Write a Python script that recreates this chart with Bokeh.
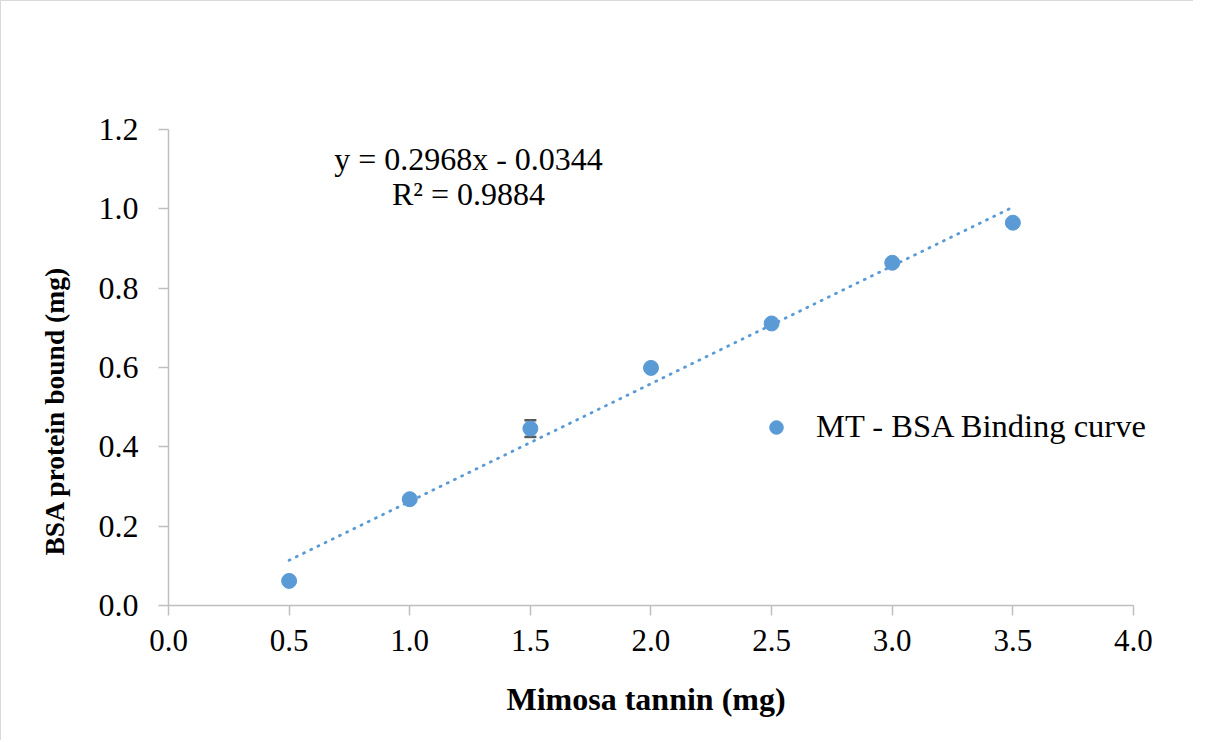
from bokeh.plotting import figure
from bokeh.models import (ColumnDataSource, Whisker, TeeHead, Label, Legend, LegendItem,
                          FixedTicker, NumeralTickFormatter, Range1d, Title)
from bokeh.embed import file_html
from bokeh.resources import INLINE

# ---- data ----
tannin_mg = [0.5, 1.0, 1.5, 2.0, 2.5, 3.0, 3.5]
bsa_bound_mg = [0.062, 0.268, 0.446, 0.599, 0.711, 0.864, 0.965]
bsa_error_mg = [0.004, 0.005, 0.021, 0.004, 0.005, 0.005, 0.004]
trend_slope = 0.2968
trend_intercept = -0.0344
trend_r2 = 0.9884
x_ticks = [0.0, 0.5, 1.0, 1.5, 2.0, 2.5, 3.0, 3.5, 4.0]
y_ticks = [0.0, 0.2, 0.4, 0.6, 0.8, 1.0, 1.2]
series_name = "MT - BSA Binding curve"
x_title = "Mimosa tannin (mg)"
y_title = "BSA protein bound (mg)"

FONT = "Liberation Serif"
BLUE = "#5B9BD5"
AXIS_GRAY = "#BFBFBF"

# frame is extended to the right (axis stops at 4.0) so the legend text is not clipped
X_END = 4.199

p = figure(width=1193, height=740, output_backend="svg", toolbar_location=None,
           x_range=Range1d(0, X_END), y_range=Range1d(0, 1.2),
           min_border_left=167, min_border_right=13, min_border_top=128, min_border_bottom=135)
p.styles = {"border-top": "1px solid #d9d9d9", "border-left": "1px solid #d9d9d9"}
p.outline_line_color = None
p.xgrid.visible = False
p.ygrid.visible = False

for ax in (p.xaxis[0], p.yaxis[0]):
    ax.axis_line_color = AXIS_GRAY
    ax.axis_line_width = 1.5
    ax.major_tick_line_color = AXIS_GRAY
    ax.major_tick_line_width = 1.5
    ax.major_tick_out = 10
    ax.major_tick_in = 0
    ax.minor_tick_out = 0
    ax.minor_tick_in = 0
    ax.major_label_text_font = FONT
    ax.major_label_text_font_size = "31px"
    ax.major_label_text_color = "#000000"

p.yaxis.major_label_text_font_size = "32px"
p.xaxis.bounds = (x_ticks[0], x_ticks[-1])
p.xaxis.ticker = FixedTicker(ticks=x_ticks)
p.yaxis.ticker = FixedTicker(ticks=y_ticks)
p.xaxis.formatter = NumeralTickFormatter(format="0.0")
p.yaxis.formatter = NumeralTickFormatter(format="0.0")
p.xaxis.major_label_standoff = 14
p.yaxis.major_label_standoff = 20

# axis titles as side-panel titles, positioned like Excel places them
xtitle = Title(text=x_title, align="left", offset=338, standoff=50, vertical_align="bottom",
               text_font=FONT, text_font_size="32px", text_font_style="bold",
               text_color="#000000")
p.add_layout(xtitle, "below")
ytitle = Title(text=y_title, align="left", offset=50, standoff=50, vertical_align="middle",
               text_font=FONT, text_font_size="27.5px", text_font_style="bold",
               text_color="#000000")
p.add_layout(ytitle, "left")

# trendline (dotted)
tx = [min(tannin_mg), max(tannin_mg)]
ty = [trend_slope * v + trend_intercept for v in tx]
p.line(tx, ty, line_color=BLUE, line_width=2.8, line_dash="1 7", line_cap="round")

# error bars
src = ColumnDataSource(dict(x=tannin_mg, y=bsa_bound_mg,
                            lo=[y - e for y, e in zip(bsa_bound_mg, bsa_error_mg)],
                            hi=[y + e for y, e in zip(bsa_bound_mg, bsa_error_mg)]))
w = Whisker(source=src, base="x", lower="lo", upper="hi", line_color="#595959", line_width=1.5,
            upper_head=TeeHead(size=12, line_color="#595959", line_width=2.5),
            lower_head=TeeHead(size=12, line_color="#595959", line_width=2.5))
p.add_layout(w)

r = p.scatter("x", "y", source=src, size=15, fill_color=BLUE, line_color=BLUE, marker="circle")

legend = Legend(items=[LegendItem(label=series_name, renderers=[r])], location=(591, 160))
legend.label_text_font = FONT
legend.label_text_font_size = "32.5px"
legend.label_text_color = "#000000"
legend.label_standoff = 23
legend.glyph_width = 34
legend.glyph_height = 34
legend.padding = 0
legend.margin = 0
legend.border_line_color = None
legend.background_fill_alpha = 0
p.add_layout(legend)

eq1 = Label(x=300, y=447, x_units="screen", y_units="screen",
            text=f"y = {trend_slope:.4f}x - {abs(trend_intercept):.4f}",
            text_font=FONT, text_font_size="32px", text_color="#000000",
            text_align="center", text_baseline="middle")
eq2 = Label(x=300, y=412, x_units="screen", y_units="screen",
            text=f"R\u00b2 = {trend_r2:.4f}",
            text_font=FONT, text_font_size="32px", text_color="#000000",
            text_align="center", text_baseline="middle")
p.add_layout(eq1)
p.add_layout(eq2)

open("out.html", "w").write(file_html(p, INLINE))
